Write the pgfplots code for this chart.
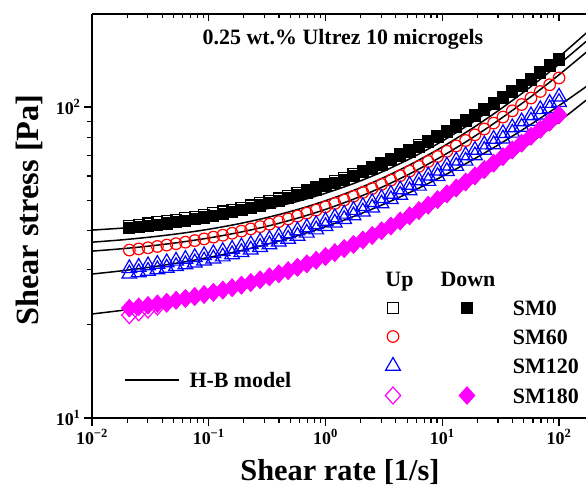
\documentclass[border=0pt]{standalone}
\usepackage{fontspec}
\setmainfont{Liberation Serif}
\usepackage{pgfplots}
\usepackage{pgfplotstable}
\pgfplotsset{compat=1.18}
\definecolor{mag}{RGB}{255,0,255}
\definecolor{rd}{RGB}{255,0,0}
\definecolor{bl}{RGB}{0,0,255}

\pgfplotstableread{
x s0u s0d s60 s120u s120d s180u s180d
0.02089 41.53 40.73 34.67 30.27 29.09 21.42 22.55
0.02512 41.86 41.06 34.96 30.58 29.38 21.87 22.78
0.03020 42.21 41.41 35.27 30.91 29.69 22.34 23.03
0.03631 42.59 41.79 35.61 31.25 30.03 22.83 23.30
0.04365 43.00 42.20 35.97 31.62 30.38 23.35 23.59
0.05248 43.43 42.63 36.35 32.01 30.75 23.90 23.90
0.06310 43.90 43.10 36.76 32.43 31.15 24.22 24.22
0.07586 44.39 43.59 37.19 32.86 31.58 24.58 24.58
0.09120 44.92 44.12 37.66 33.33 32.03 24.95 24.95
0.1096 45.49 44.69 38.16 33.83 32.51 25.35 25.35
0.1318 46.10 45.30 38.70 34.37 33.03 25.78 25.78
0.1585 46.75 45.95 39.27 34.94 33.57 26.24 26.24
0.1905 47.44 46.64 39.89 35.54 34.14 26.74 26.74
0.2291 48.19 47.39 40.54 36.18 34.76 27.26 27.26
0.2754 48.99 48.19 41.25 36.86 35.42 27.83 27.83
0.3311 49.84 49.04 42.00 37.59 36.11 28.43 28.43
0.3981 50.75 49.95 42.80 38.36 36.86 29.08 29.08
0.4786 51.73 50.93 43.66 39.18 37.64 29.77 29.77
0.5754 52.77 51.97 44.58 40.06 38.48 30.51 30.51
0.6918 53.89 53.09 45.57 40.98 39.38 31.30 31.30
0.8318 55.08 54.28 46.62 41.97 40.33 32.14 32.14
1.000 56.36 55.56 47.75 43.02 41.34 33.05 33.05
1.202 57.73 56.93 48.96 44.15 42.41 34.02 34.02
1.445 59.19 58.39 50.25 45.33 43.55 35.06 35.06
1.738 60.76 59.96 51.63 46.60 44.78 36.16 36.16
2.089 62.43 61.63 53.11 47.95 46.07 37.35 37.35
2.512 64.23 63.43 54.69 49.38 47.44 38.62 38.62
3.020 66.14 65.34 56.38 50.91 48.91 39.98 39.98
3.631 68.20 67.40 58.19 52.53 50.47 41.43 41.43
4.365 70.39 69.59 60.13 54.25 52.13 42.99 42.99
5.248 72.74 71.94 62.20 56.09 53.89 44.65 44.65
6.310 75.26 74.46 64.42 58.04 55.76 46.43 46.43
7.586 77.95 77.15 66.79 60.12 57.76 48.33 48.33
9.120 80.82 80.02 69.32 62.33 59.89 50.37 50.37
10.96 83.90 83.10 72.04 64.68 62.14 52.55 52.55
13.18 87.20 86.40 74.95 67.19 64.55 54.89 54.89
15.85 90.72 89.92 78.05 69.84 67.10 57.38 57.38
19.05 94.49 93.69 81.38 72.68 69.83 60.05 60.05
22.91 98.53 97.73 84.94 75.68 72.72 62.91 62.91
27.54 102.85 102.05 88.75 78.90 75.80 65.97 65.97
33.11 107.46 106.66 92.82 82.30 79.08 69.24 69.24
39.81 112.41 111.61 97.18 85.92 82.56 72.74 72.74
47.86 117.69 116.89 101.84 89.79 86.27 76.48 76.48
57.54 123.35 122.55 106.83 93.89 90.21 80.49 80.49
69.18 129.41 128.61 112.17 98.26 94.40 84.77 84.77
83.18 135.88 135.08 117.88 102.91 98.87 89.36 89.36
100.0 142.81 142.01 123.99 107.84 103.62 94.27 94.27
}\datatab

\pgfplotstableread{
x L1 L2 L3 L4 L5
0.01 40.20 36.76 34.40 29.03 21.60
0.017783 40.76 37.38 35.00 29.72 22.17
0.031623 41.48 38.18 35.75 30.56 22.87
0.056234 42.41 39.18 36.71 31.58 23.73
0.1 43.60 40.45 37.92 32.83 24.79
0.17783 45.12 42.07 39.44 34.35 26.11
0.31623 47.08 44.11 41.36 36.21 27.73
0.56234 49.59 46.69 43.79 38.47 29.74
1 52.80 49.96 46.85 41.23 32.22
1.7783 56.92 54.10 50.71 44.60 35.28
3.1623 62.21 59.35 55.59 48.71 39.07
5.6234 68.99 65.99 61.73 53.72 43.74
10 77.68 74.39 69.49 59.83 49.51
17.783 88.82 85.04 79.28 67.28 56.64
31.623 103.12 98.52 91.64 76.37 65.45
56.234 121.44 115.59 107.23 87.46 76.33
100 144.95 137.20 126.90 100.99 89.77
177.83 175.08 164.56 151.72 117.48 106.38
}\hbtab

\newcommand{\lgfont}{\fontsize{22}{24}\selectfont\bfseries}

\begin{document}
\begin{tikzpicture}
\useasboundingbox (-92bp,-68bp) rectangle (494bp,418bp);
\begin{axis}[
  at={(0,0)}, anchor=south west,
  scale only axis, width=494bp, height=404bp,
  xmode=log, ymode=log,
  xmin=0.01, xmax=170.3, ymin=10, ymax=199.1,
  axis x line*=bottom, axis y line*=left,
  axis line style={line width=1.6bp, black},
  tick align=outside,
  major tick length=8bp, minor tick length=5bp,
  tick style={line width=1.2bp, black},
  xtick={0.01,0.1,1,10,100},
  minor xtick={0.02,0.03,0.04,0.05,0.06,0.07,0.08,0.09,0.2,0.3,0.4,0.5,0.6,0.7,0.8,0.9,2,3,4,5,6,7,8,9,20,30,40,50,60,70,80,90},
  xticklabels={10\textsuperscript{−2},10\textsuperscript{−1},10\textsuperscript{0},10\textsuperscript{1},10\textsuperscript{2}},
  ytick={10,100},
  minor ytick={20,30,40,50,60,70,80,90},
  yticklabels={10\textsuperscript{1},10\textsuperscript{2}},
  tick label style={font=\fontsize{18}{20}\selectfont\bfseries},
  xlabel={Shear rate [1/s]},
  ylabel={Shear stress [Pa]},
  xlabel style={font=\fontsize{30.5}{33}\selectfont\bfseries, at={(axis description cs:0.502,-0.1535)}, anchor=base},
  ylabel style={font=\fontsize{32.5}{35}\selectfont\bfseries, at={(axis description cs:-0.1265,0.5149)}, anchor=center},
  legend columns=2,
  legend cell align=left,
  legend image code/.code={\draw[#1] plot coordinates {(0bp,0bp)}; \path[draw=none,fill=none] (-8.5bp,-7bp) rectangle (8.5bp,7bp);},
  legend style={draw=none, fill=none, inner sep=0pt, outer sep=0pt,
    at={(axis description cs:0.5921,0.2908)}, anchor=north west,
    row sep=13.5bp,
    nodes={inner sep=0pt, outer sep=0pt, text height=15bp, text depth=0bp, font=\lgfont},
    /tikz/every odd column/.append style={column sep=37.5bp},
    /tikz/every even column/.append style={column sep=18.5bp}},
]
% SM0
\addplot[forget plot, only marks, mark=square, black, line width=1.2bp, mark size=5.5bp] table[x=x,y=s0u]{\datatab};
\addplot[forget plot, only marks, mark=square*, black, line width=1.2bp, mark size=5.5bp] table[x=x,y=s0d]{\datatab};
% SM60
\addplot[forget plot, only marks, mark=o, rd, line width=1.2bp, mark size=5.8bp] table[x=x,y=s60]{\datatab};
% SM120
\addplot[forget plot, only marks, mark=triangle, bl, line width=1.2bp, mark size=8.5bp] table[x=x,y=s120d]{\datatab};
\addplot[forget plot, only marks, mark=triangle, bl, line width=1.2bp, mark size=8.5bp] table[x=x,y=s120u]{\datatab};
% SM180
\addplot[forget plot, only marks, mark=diamond, mag, line width=1.2bp, mark size=8.5bp, mark options={xscale=1.2}] table[x=x,y=s180u]{\datatab};
\addplot[forget plot, only marks, mark=diamond*, mag, line width=1.2bp, mark size=8.5bp, mark options={xscale=1.2}] table[x=x,y=s180d]{\datatab};
% H-B model fits
\addplot[forget plot, no marks, smooth, black, line width=1.5bp] table[x=x,y=L1]{\hbtab};
\addplot[forget plot, no marks, smooth, black, line width=1.5bp] table[x=x,y=L2]{\hbtab};
\addplot[forget plot, no marks, smooth, black, line width=1.5bp] table[x=x,y=L3]{\hbtab};
\addplot[forget plot, no marks, smooth, black, line width=1.5bp] table[x=x,y=L4]{\hbtab};
\addplot[forget plot, no marks, smooth, black, line width=1.5bp] table[x=x,y=L5]{\hbtab};

% legend
\addlegendimage{only marks, mark=square, black, line width=1.2bp, mark size=5.5bp}
\addlegendentry{}
\addlegendimage{only marks, mark=square*, black, line width=1.2bp, mark size=5.5bp}
\addlegendentry{SM0}
\addlegendimage{only marks, mark=o, rd, line width=1.2bp, mark size=5.8bp}
\addlegendentry{}
\addlegendimage{empty legend}
\addlegendentry{SM60}
\addlegendimage{only marks, mark=triangle, bl, line width=1.2bp, mark size=8.5bp}
\addlegendentry{}
\addlegendimage{empty legend}
\addlegendentry{SM120}
\addlegendimage{only marks, mark=diamond, mag, line width=1.2bp, mark size=8.5bp, mark options={xscale=1.2}}
\addlegendentry{}
\addlegendimage{only marks, mark=diamond*, mag, line width=1.2bp, mark size=8.5bp, mark options={xscale=1.2}}
\addlegendentry{SM180}

\node[anchor=base, font=\lgfont] at (axis description cs:0.508,0.9233) {0.25 wt.\% Ultrez 10 microgels};
\node[anchor=base west, font=\lgfont] at (axis description cs:0.587,0.3243) {Up};
\node[anchor=base west, font=\lgfont] at (axis description cs:0.6984,0.3243) {Down};
\end{axis}

\begin{axis}[
  at={(0,0)}, anchor=south west,
  scale only axis, width=494bp, height=404bp,
  xmode=log, ymode=log,
  xmin=0.01, xmax=170.3, ymin=10, ymax=199.1,
  axis x line*=top, axis y line=none,
  axis line style={line width=1.6bp, black},
  tick align=inside,
  major tick length=7bp, minor tick length=4.5bp,
  tick style={line width=1.2bp, black},
  xtick={0.01,0.1,1,10,100},
  minor xtick={0.02,0.03,0.04,0.05,0.06,0.07,0.08,0.09,0.2,0.3,0.4,0.5,0.6,0.7,0.8,0.9,2,3,4,5,6,7,8,9,20,30,40,50,60,70,80,90},
  xticklabels={},
  ytick=\empty,
  legend image code/.code={\draw[#1] (0bp,0bp) -- (54bp,0bp);},
  legend style={draw=none, fill=none, inner sep=0pt, outer sep=0pt,
    at={(axis description cs:0.0648,0.1126)}, anchor=north west,
    nodes={inner sep=0pt, outer sep=0pt, text height=15bp, text depth=0bp, font=\lgfont},
    /tikz/every odd column/.append style={column sep=10bp}},
]
\addlegendimage{black, line width=1.5bp}
\addlegendentry{H-B model}
\end{axis}
\end{tikzpicture}
\end{document}
